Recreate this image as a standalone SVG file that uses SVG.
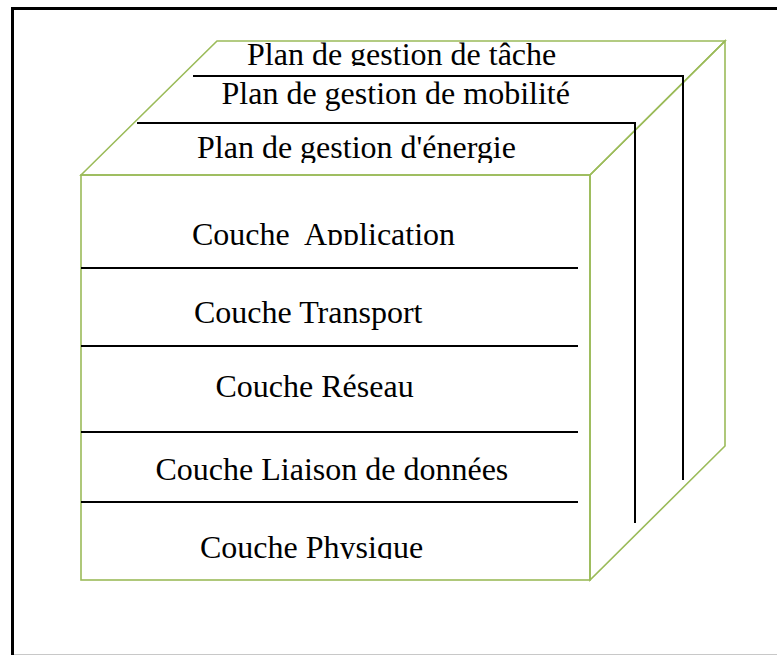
<svg xmlns="http://www.w3.org/2000/svg" width="777" height="655" viewBox="0 0 777 655">
  <style>
    .face { fill: none; stroke: #9bbb59; stroke-width: 1.6; stroke-linejoin: miter; }
    .rule { fill: none; stroke: #000; stroke-width: 2; }
    .lbl { font-family: "Liberation Serif", "Times New Roman", serif; font-size: 32px; fill: #000; }
  </style>
  <defs>
    <!-- text boxes crop the lower part of some labels -->
    <clipPath id="cl-tache"><rect x="0" y="40" width="777" height="26"/></clipPath>
    <clipPath id="cl-energie"><rect x="0" y="125" width="777" height="38"/></clipPath>
    <clipPath id="cl-app"><rect x="0" y="200" width="777" height="45"/></clipPath>
    <clipPath id="cl-phys"><rect x="0" y="510" width="777" height="49"/></clipPath>
  </defs>

  <rect x="0" y="0" width="777" height="655" fill="#fff"/>

  <!-- frame -->
  <path d="M777,8.5 H12.5 V655" fill="none" stroke="#000" stroke-width="3"/>
  <line x1="14" y1="654.5" x2="777" y2="654.5" stroke="#c8c8c8" stroke-width="1"/>

  <!-- cube outline -->
  <g id="cube">
    <rect class="face" x="81" y="175" width="509" height="405"/>
    <polygon class="face" points="81,175 217,41 725,41 590,175"/>
    <polygon class="face" points="590,175 725,41 725,446 590,580"/>
  </g>

  <!-- separators between planes and layers -->
  <g id="connectors">
    <polyline class="rule" points="193,76 683,76 683,480"/>
    <polyline class="rule" points="137,123 635,123 635,523"/>
    <line class="rule" x1="81" y1="268" x2="578" y2="268"/>
    <line class="rule" x1="81" y1="346" x2="578" y2="346"/>
    <line class="rule" x1="81" y1="432" x2="578" y2="432"/>
    <line class="rule" x1="81" y1="502" x2="578" y2="502"/>
  </g>

  <!-- management planes -->
  <g id="plan-tache">
    <text class="lbl" x="247" y="65" clip-path="url(#cl-tache)">Plan de gestion de tâche</text>
  </g>
  <g id="plan-mobilite">
    <text class="lbl" x="221.5" y="104">Plan de gestion de mobilité</text>
  </g>
  <g id="plan-energie">
    <text class="lbl" x="197" y="158" clip-path="url(#cl-energie)">Plan de gestion d'énergie</text>
  </g>

  <!-- protocol layers -->
  <g id="couche-application">
    <text class="lbl" x="192" y="245" xml:space="preserve" clip-path="url(#cl-app)">Couche  Application</text>
  </g>
  <g id="couche-transport">
    <text class="lbl" x="194" y="323">Couche Transport</text>
  </g>
  <g id="couche-reseau">
    <text class="lbl" x="215.5" y="397">Couche Réseau</text>
  </g>
  <g id="couche-liaison">
    <text class="lbl" x="155.5" y="480">Couche Liaison de données</text>
  </g>
  <g id="couche-physique">
    <text class="lbl" x="200" y="557.5" clip-path="url(#cl-phys)">Couche Physique</text>
  </g>
</svg>
